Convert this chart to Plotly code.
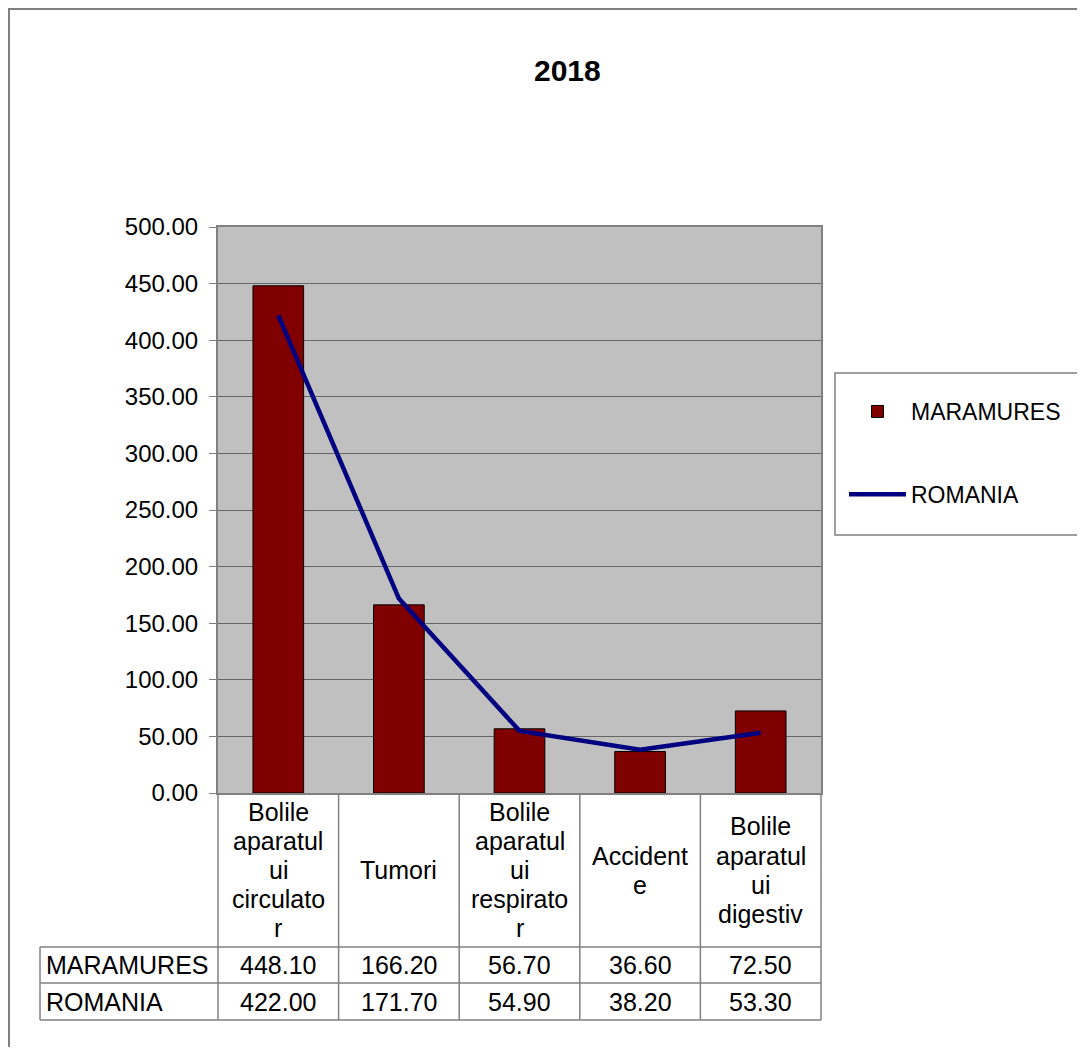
import plotly.graph_objects as go

# the page has an 8px body margin, so the figure is 16px smaller than the window
OFF = 8
W, H = 1085 - 2 * OFF, 1055 - 2 * OFF

categories = [
    "Bolile aparatului circulator",
    "Tumori",
    "Bolile aparatului respirator",
    "Accidente",
    "Bolile aparatului digestiv",
]
category_labels = [
    ["Bolile", "aparatul", "ui", "circulato", "r"],
    ["Tumori"],
    ["Bolile", "aparatul", "ui", "respirato", "r"],
    ["Accident", "e"],
    ["Bolile", "aparatul", "ui", "digestiv"],
]
maramures = [448.10, 166.20, 56.70, 36.60, 72.50]
romania = [422.00, 171.70, 54.90, 38.20, 53.30]
y_ticks = [0, 50, 100, 150, 200, 250, 300, 350, 400, 450, 500]


def px(x):
    return (x - OFF) / W


def py(y):
    return 1 - (y - OFF) / H


# plot area / table in screen pixels
left, right, top, bottom = 218, 821, 227, 793
table_left, header_bottom, row_sep, table_bottom = 40, 947, 983, 1020

FAMILY = "Liberation Sans, Arial, sans-serif"
font = dict(family=FAMILY, size=24, color="#000000")
tfont = dict(family=FAMILY, size=25, color="#000000")

fig = go.Figure()

fig.add_trace(
    go.Bar(
        x=categories,
        y=maramures,
        name="MARAMURES",
        width=0.42,
        marker=dict(color="#800000", line=dict(color="#000000", width=1)),
        legendgroup="m",
    )
)

fig.add_trace(
    go.Scatter(
        x=categories,
        y=romania,
        mode="lines",
        name="ROMANIA",
        line=dict(color="#000080", width=4.5),
        legendgroup="r",
    )
)

fig.update_layout(
    width=W,
    height=H,
    margin=dict(l=0, r=0, t=0, b=0, autoexpand=False),
    paper_bgcolor="#ffffff",
    plot_bgcolor="#c0c0c0",
    font=font,
    showlegend=True,
    legend=dict(
        x=px(844),
        y=py(390),
        xanchor="left",
        yanchor="top",
        bgcolor="rgba(0,0,0,0)",
        borderwidth=0,
        tracegroupgap=50,
        itemwidth=57,
        font=dict(family=FAMILY, size=23, color="#000000"),
    ),
    xaxis=dict(
        domain=[px(left), px(right)],
        showticklabels=False,
        ticks="",
        showgrid=False,
        showline=True,
        linecolor="#808080",
        linewidth=2,
        mirror=True,
        range=[-0.5, 4.5],
        automargin=False,
    ),
    yaxis=dict(
        domain=[py(bottom), py(top)],
        range=[0, 500],
        tickvals=y_ticks,
        tickformat=".2f",
        ticks="outside",
        ticklen=7,
        tickcolor="#808080",
        ticklabelstandoff=6,
        showgrid=True,
        gridcolor="#666666",
        gridwidth=1,
        showline=True,
        linecolor="#808080",
        linewidth=2,
        mirror=True,
        zeroline=False,
        tickfont=font,
        automargin=False,
    ),
)

# title
fig.add_annotation(
    text="<b>2018</b>",
    x=px(567), y=py(70), xref="paper", yref="paper",
    xanchor="center", yanchor="middle",
    showarrow=False, font=dict(family=FAMILY, size=30, color="#000000"),
)

# outer frame and legend box
fig.add_shape(type="rect", xref="paper", yref="paper",
              x0=px(9), x1=1.2, y0=-0.2, y1=py(9),
              line=dict(color="#808080", width=2), layer="below")
fig.add_shape(type="rect", xref="paper", yref="paper",
              x0=px(835), x1=px(1078), y0=py(535), y1=py(373),
              line=dict(color="#808080", width=1.5))

# data table below the plot
n = len(categories)
lc = dict(color="#808080", width=1.5)
for i in range(n + 1):
    xd = i / n
    fig.add_shape(type="line", xref="x domain", yref="paper",
                  x0=xd, x1=xd, y0=py(bottom), y1=py(table_bottom), line=lc)
tl = (table_left - left) / (right - left)
fig.add_shape(type="line", xref="x domain", yref="paper",
              x0=tl, x1=tl, y0=py(header_bottom), y1=py(table_bottom), line=lc)
for yy in [header_bottom, row_sep, table_bottom]:
    fig.add_shape(type="line", xref="x domain", yref="paper",
                  x0=tl, x1=1, y0=py(yy), y1=py(yy), line=lc)

LINE_PITCH = 29
header_mid = (bottom + header_bottom) / 2
for cat, lines, m, r in zip(categories, category_labels, maramures, romania):
    k = len(lines)
    for j, word in enumerate(lines):
        yy = header_mid + (j - (k - 1) / 2) * LINE_PITCH
        fig.add_annotation(text=word, x=cat, xref="x", y=py(yy), yref="paper",
                           showarrow=False, font=tfont, yanchor="middle")
    fig.add_annotation(text=f"{m:.2f}", x=cat, xref="x", y=py((header_bottom + row_sep) / 2),
                       yref="paper", showarrow=False, font=tfont, yanchor="middle")
    fig.add_annotation(text=f"{r:.2f}", x=cat, xref="x", y=py((row_sep + table_bottom) / 2),
                       yref="paper", showarrow=False, font=tfont, yanchor="middle")

for name, yy in [("MARAMURES", (header_bottom + row_sep) / 2), ("ROMANIA", (row_sep + table_bottom) / 2)]:
    fig.add_annotation(text=name, x=(table_left + 4 - left) / (right - left), xref="x domain",
                       xanchor="left", y=py(yy), yref="paper", showarrow=False,
                       font=tfont, yanchor="middle")

fig.write_html("out.html")
